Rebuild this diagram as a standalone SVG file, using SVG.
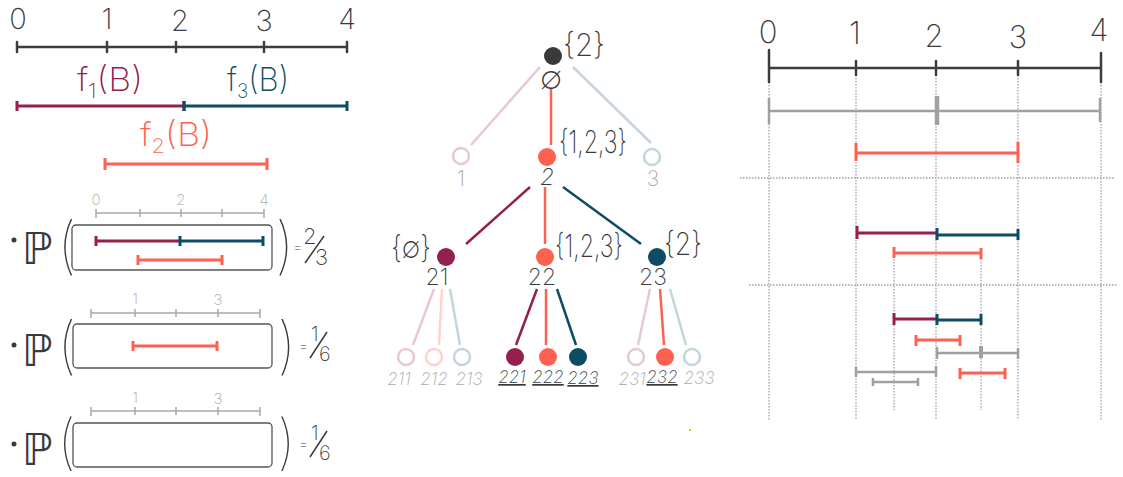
<svg xmlns="http://www.w3.org/2000/svg" width="1123" height="477" viewBox="0 0 1123 477">
<style>
.hand{font-family:Inter,"Liberation Sans",sans-serif;font-weight:200;}
.par{font-family:Inter,"Liberation Sans",sans-serif;font-weight:100;fill:#3a3a3c;}
.dk{fill:#3a3a3c;}
.gy{fill:#a8a8a8;}
.ax{stroke:#3d3d3f;stroke-width:2.5;fill:none;stroke-linecap:round;}
.gax{stroke:#a8a8a8;stroke-width:1.5;fill:none;}
.mag{stroke:#942050;stroke-width:3;fill:none;}
.teal{stroke:#0d4c62;stroke-width:3;fill:none;}
.org{stroke:#fe6150;stroke-width:3;fill:none;}
.gbar{stroke:#a0a0a0;stroke-width:2.5;fill:none;}
.box{fill:none;stroke:#555;stroke-width:1.3;}
.dot{stroke:#a0a0a8;stroke-width:1.3;stroke-dasharray:1.5 1.5;fill:none;}
.e{stroke-width:2.5;fill:none;}
</style>

<!-- LEFT TOP -->
<g id="left-axis">
<path class="ax" d="M17 47H347M17 42V52M107 42V52M176 42V52M264 42V52M347 42V52"/>
<g class="hand dk" font-size="29" text-anchor="middle">
<text x="18" y="29">0</text><text x="107" y="29">1</text><text x="180" y="31">2</text><text x="264" y="31">3</text><text x="347" y="29">4</text>
</g>
</g>
<g id="f-bars">
<path class="mag" d="M17 106H184M17 101V111M184 101V111"/>
<path class="teal" d="M184 106H347M184 101V111M347 101V111"/>
<path class="org" d="M105 164H267M105 158V170M267 158V170"/>
<text class="hand" font-size="33" fill="#942050" x="77" y="91" textLength="66" lengthAdjust="spacingAndGlyphs">f<tspan font-size="20" dy="7">1</tspan><tspan dy="-7">(B)</tspan></text>
<text class="hand" font-size="33" fill="#0d4c62" x="227" y="91" textLength="62" lengthAdjust="spacingAndGlyphs">f<tspan font-size="20" dy="7">3</tspan><tspan dy="-7">(B)</tspan></text>
<text class="hand" font-size="33" fill="#fe6150" x="140" y="146" textLength="72" lengthAdjust="spacingAndGlyphs">f<tspan font-size="20" dy="7">2</tspan><tspan dy="-7">(B)</tspan></text>
</g>

<!-- LEFT BOTTOM ROWS -->
<g id="row1">
<circle cx="14" cy="240" r="2.5" fill="#3a3a3c"/>
<text class="dk" font-family="DejaVu Sans,sans-serif" font-size="44" x="22" y="264">ℙ</text>
<text class="par" font-size="62" x="57" y="267">(</text>
<text class="par" font-size="62" x="275" y="267">)</text>
<path class="gax" d="M96 213H264M96 209V218M140 209V217M181 209V217M222 209V217M264 209V218"/>
<g class="hand gy" font-size="15" text-anchor="middle"><text x="96" y="205">0</text><text x="181" y="205">2</text><text x="264" y="205">4</text></g>
<rect class="box" x="72" y="225" width="200" height="45" rx="4"/>
<path class="mag" d="M96 241H180M96 236V246"/>
<path class="teal" d="M180 241H263M180 236V246M263 236V246"/>
<path class="org" d="M138 260H222M138 255V265M222 255V265"/>
<text class="hand dk" font-size="14" x="293" y="252">=</text>
<text class="hand dk" font-size="22" x="303" y="244">2</text>
<path d="M305 263L324 236" stroke="#3a3a3c" stroke-width="1.5"/>
<text class="hand dk" font-size="22" x="315" y="265">3</text>
</g>

<g id="row2">
<circle cx="14" cy="345" r="2.5" fill="#3a3a3c"/>
<text class="dk" font-family="DejaVu Sans,sans-serif" font-size="44" x="22" y="366">ℙ</text>
<text class="par" font-size="62" x="57" y="367">(</text>
<text class="par" font-size="62" x="277" y="367">)</text>
<path class="gax" d="M91 313H260M91 309V318M135 309V317M176 309V317M218 309V317M260 309V318"/>
<g class="hand gy" font-size="15" text-anchor="middle"><text x="135" y="304">1</text><text x="218" y="305">3</text></g>
<rect class="box" x="73" y="324" width="199" height="44" rx="4"/>
<path class="org" d="M133 346H217M133 341V351M217 341V351"/>
<text class="hand dk" font-size="14" x="299" y="351">=</text>
<text class="hand dk" font-size="20" x="311" y="341">1</text>
<path d="M310 358L327 332" stroke="#3a3a3c" stroke-width="1.5"/>
<text class="hand dk" font-size="20" x="319" y="361">6</text>
</g>

<g id="row3">
<circle cx="14" cy="444" r="2.5" fill="#3a3a3c"/>
<text class="dk" font-family="DejaVu Sans,sans-serif" font-size="44" x="22" y="465">ℙ</text>
<text class="par" font-size="60" x="57" y="463">(</text>
<text class="par" font-size="60" x="277" y="463">)</text>
<path class="gax" d="M91 411H260M91 407V416M135 407V415M176 407V415M218 407V415M260 407V416"/>
<g class="hand gy" font-size="15" text-anchor="middle"><text x="135" y="403">1</text><text x="218" y="404">3</text></g>
<rect class="box" x="73" y="423" width="199" height="44" rx="4"/>
<text class="hand dk" font-size="14" x="299" y="449">=</text>
<text class="hand dk" font-size="20" x="311" y="440">1</text>
<path d="M310 457L327 431" stroke="#3a3a3c" stroke-width="1.5"/>
<text class="hand dk" font-size="20" x="319" y="460">6</text>
</g>

<!-- TREE -->
<g id="tree-edges">
<path class="e" stroke="#e6c9d3" d="M540 67L471 145"/>
<path class="e" stroke="#fe6150" d="M551 88V145"/>
<path class="e" stroke="#c3d6dc" d="M573 67L651 143"/>
<path class="e" stroke="#942050" d="M530 187L466 244"/>
<path class="e" stroke="#fe6150" d="M545 187V244"/>
<path class="e" stroke="#0d4c62" d="M563 187L641 244"/>
<path class="e" stroke="#e6c9d3" d="M434 289L413 345"/>
<path class="e" stroke="#ffd2cb" d="M442 289L439 345"/>
<path class="e" stroke="#c3d6dc" d="M450 289L460 345"/>
<path class="e" stroke="#942050" d="M537 289L516 345"/>
<path class="e" stroke="#fe6150" d="M546 289V345"/>
<path class="e" stroke="#0d4c62" d="M557 289L576 345"/>
<path class="e" stroke="#e6c9d3" d="M650 289L638 345"/>
<path class="e" stroke="#fe6150" d="M660 289L664 345"/>
<path class="e" stroke="#c3d6dc" d="M670 289L686 345"/>
</g>
<g id="n-root">
<circle cx="553" cy="56" r="9" fill="#3a3a3c"/>
<text class="hand dk" font-size="31" x="563" y="56" textLength="42" lengthAdjust="spacingAndGlyphs">{2}</text>
<text class="hand dk" font-size="32" x="551" y="89" text-anchor="middle">∅</text>
</g>
<g id="n-1"><circle cx="461" cy="156" r="8" fill="#fff" stroke="#e6c9d3" stroke-width="2.5"/><text class="hand gy" font-size="21" x="461" y="186" text-anchor="middle">1</text></g>
<g id="n-2"><circle cx="547" cy="157" r="9" fill="#fe6150"/><text class="hand dk" font-size="31" x="559" y="153" textLength="68" lengthAdjust="spacingAndGlyphs">{1,2,3}</text><text class="hand dk" font-size="23" font-style="italic" x="547" y="185" text-anchor="middle">2</text></g>
<g id="n-3"><circle cx="652" cy="157" r="8" fill="#fff" stroke="#c3d6dc" stroke-width="2.5"/><text class="hand gy" font-size="21" x="653" y="186" text-anchor="middle">3</text></g>

<g id="n-21"><circle cx="446" cy="257" r="9" fill="#942050"/><text class="hand dk" font-size="31" x="391" y="258" textLength="40" lengthAdjust="spacingAndGlyphs">{∅}</text><text class="hand dk" font-size="23" x="437" y="285" text-anchor="middle">21</text></g>
<g id="n-22"><circle cx="545" cy="257" r="9" fill="#fe6150"/><text class="hand dk" font-size="31" x="555" y="257" textLength="68" lengthAdjust="spacingAndGlyphs">{1,2,3}</text><text class="hand dk" font-size="23" x="542" y="285" text-anchor="middle">22</text></g>
<g id="n-23"><circle cx="657" cy="257" r="9" fill="#0d4c62"/><text class="hand dk" font-size="31" x="664" y="255" textLength="38" lengthAdjust="spacingAndGlyphs">{2}</text><text class="hand dk" font-size="23" x="653" y="285" text-anchor="middle">23</text></g>

<g class="hand" font-size="17" font-style="italic" text-anchor="middle">
<g id="n-211"><circle cx="406" cy="357" r="8" fill="#fff" stroke="#e6c9d3" stroke-width="2.5"/><text class="gy" x="399" y="385">211</text></g>
<g id="n-212"><circle cx="434" cy="357" r="8" fill="#fff" stroke="#ffd2cb" stroke-width="2.5"/><text class="gy" x="434" y="385">212</text></g>
<g id="n-213"><circle cx="462" cy="357" r="8" fill="#fff" stroke="#c3d6dc" stroke-width="2.5"/><text class="gy" x="469" y="385">213</text></g>
<g id="n-221"><circle cx="515" cy="357" r="9" fill="#942050"/><text class="dk" x="512" y="383" text-decoration="underline">221</text></g>
<g id="n-222"><circle cx="548" cy="357" r="9" fill="#fe6150"/><text class="dk" x="548" y="383" text-decoration="underline">222</text></g>
<g id="n-223"><circle cx="578" cy="357" r="9" fill="#0d4c62"/><text class="dk" x="583" y="384" text-decoration="underline">223</text></g>
<g id="n-231"><circle cx="636" cy="357" r="8" fill="#fff" stroke="#e6c9d3" stroke-width="2.5"/><text class="gy" x="632" y="385">231</text></g>
<g id="n-232"><circle cx="665" cy="357" r="9" fill="#fe6150"/><text class="dk" x="662" y="383" text-decoration="underline">232</text></g>
<g id="n-233"><circle cx="692" cy="357" r="8" fill="#fff" stroke="#c3d6dc" stroke-width="2.5"/><text class="gy" x="699" y="384">233</text></g>
</g>
<rect x="689" y="429" width="2" height="2" fill="#f5b840"/>

<!-- RIGHT PANEL -->
<g id="right-grid">
<path class="dot" d="M769 82V420M856 75V420M936 75V420M1018 75V420M1101 82V420M894 253V410M981 253V410M740 178H1115M749 285H1117"/>
</g>
<g id="right-axis">
<path class="ax" d="M769 68H1101M769 50V82M1101 53V82M856 61V75M936 61V75M1018 61V75"/>
<g class="hand dk" font-size="31" text-anchor="middle">
<text x="768" y="43">0</text><text x="855" y="44">1</text><text x="934" y="47">2</text><text x="1018" y="48">3</text><text x="1099" y="41">4</text>
</g>
</g>
<g id="right-bars">
<path class="gbar" d="M769 111H1100M769 98V124M1100 98V122"/>
<path stroke="#a0a0a0" stroke-width="4.5" d="M937 96V125"/>
<path class="org" stroke-width="4.5" d="M856 153H1018M856 143V161M1018 142V163"/>
<path class="mag" stroke-width="5" d="M857 233H937M857 226V239"/>
<path class="teal" stroke-width="5" d="M937 235H1018M937 228V240M1018 229V240"/>
<path class="org" stroke-width="4" d="M894 253H981M894 247V258M981 248V259"/>
<path class="mag" stroke-width="5" d="M894 319H937M894 313V325"/>
<path class="teal" stroke-width="5" d="M937 320H981M937 314V325M981 314V325"/>
<path class="org" stroke-width="4" d="M916 340H960M916 335V346M960 335V346"/>
<path class="gbar" d="M937 353H1018M937 347V359M1018 348V359"/>
<path stroke="#a0a0a0" stroke-width="4" d="M981 346V358"/>
<path class="gbar" d="M856 372H936M856 367V377M936 366V377"/>
<path class="org" stroke-width="4" d="M960 373H1005M960 368V379M1005 368V379"/>
<path class="gbar" stroke-width="2" d="M873 382H918M873 378V386M918 378V386"/>
</g>
</svg>
